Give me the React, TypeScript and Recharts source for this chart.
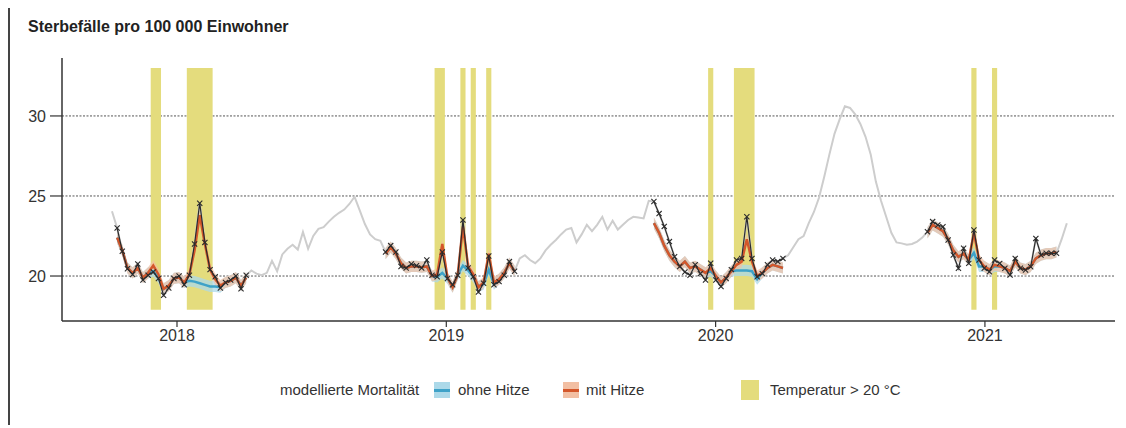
import {
  ComposedChart,
  Line,
  Area,
  XAxis,
  YAxis,
  CartesianGrid,
  ReferenceArea,
} from "recharts";

// Dezimaljahr der ersten Kalenderwoche, Wochenlänge in Jahren
const FIRST_WEEK = 2017.7586;
const WEEK = 7 / 365.25;

const YEAR_TICKS = [2018, 2019, 2020, 2021];
const Y_TICKS = [20, 25, 30];

// beobachtete Sterbefälle ausserhalb der Saisons (graue Linie)
const PRE = [24.05];
const GAP_2018 = [
  20.35, 20.15, 20.05, 20.2, 20.95, 20.3, 21.35, 21.7, 21.95, 21.65, 22.75, 21.7, 22.5,
  22.95, 23.05, 23.4, 23.7, 23.95, 24.15, 24.5, 24.95, 24.1, 23.25, 22.6, 22.3, 22.2,
];
const GAP_2019 = [
  21.1, 21.3, 21.0, 20.8, 21.1, 21.6, 21.95, 22.25, 22.6, 22.9, 23.0, 22.1, 22.6, 23.2,
  22.8, 23.2, 23.7, 22.9, 23.45, 22.9, 23.2, 23.5, 23.7, 23.65, 23.6, 24.7,
];
const GAP_2020 = [
  21.3, 21.8, 22.3, 22.5, 23.3, 24.0, 24.9, 26.2, 27.6, 28.9, 29.8, 30.6, 30.5, 30.1,
  29.5, 28.7, 27.6, 25.9, 24.7, 23.7, 22.7, 22.1, 22.04, 21.95, 22.0, 22.15, 22.4,
];
const POST = [22.3, 23.3];

// Saisons: beobachtet (schwarz), modelliert mit / ohne Hitze
const OBS_2018 = [
  23.0, 21.55, 20.45, 20.1, 20.75, 19.75, 20.05, 20.25, 19.85, 18.8, 19.25, 19.85, 20.0,
  19.45, 20.05, 22.0, 24.55, 22.1, 20.4, 19.95, 19.25, 19.6, 19.75, 20.0, 19.2, 20.05,
];
const MIT_2018 = [
  22.4, 21.6, 20.5, 20.2, 20.5, 19.9, 20.2, 20.65, 20.1, 19.2, 19.4, 19.85, 19.9, 19.6,
  20.1, 21.6, 23.8, 22.0, 20.4, 19.8, 19.4, 19.6, 19.7, 19.9, 19.4, 19.9,
];
const OHNE_2018 = [
  22.4, 21.6, 20.5, 20.2, 20.5, 19.9, 20.2, 20.3, 19.9, 19.2, 19.4, 19.85, 19.9, 19.6,
  19.7, 19.65, 19.55, 19.45, 19.35, 19.35, 19.3, 19.6, 19.7, 19.9, 19.4, 19.9,
];

const OBS_2019 = [
  21.5, 21.9, 21.5, 20.6, 20.5, 20.75, 20.65, 20.5, 21.0, 20.05, 19.95, 21.5, 19.85,
  19.45, 20.05, 23.5, 20.5, 19.95, 19.0, 19.55, 21.25, 19.45, 19.65, 20.05, 20.9, 20.3,
];
const MIT_2019 = [
  21.4, 21.8, 21.4, 20.8, 20.5, 20.6, 20.6, 20.55, 20.6, 20.0, 20.1, 22.0, 19.9, 19.3,
  20.1, 23.1, 20.6, 20.1, 19.3, 19.6, 21.4, 19.6, 19.8, 20.2, 20.8, 20.3,
];
const OHNE_2019 = [
  21.4, 21.8, 21.4, 20.8, 20.5, 20.6, 20.6, 20.55, 20.6, 20.0, 19.95, 20.2, 19.85, 19.3,
  20.1, 20.65, 20.35, 19.95, 19.35, 19.5, 20.4, 19.5, 19.8, 20.2, 20.8, 20.3,
];

const OBS_2020 = [
  24.65, 23.9, 23.1, 22.15, 21.2, 20.6, 20.25, 20.05, 20.7, 20.15, 19.75, 20.8, 19.75,
  19.35, 19.85, 20.4, 21.0, 21.1, 23.7, 21.1, 19.95, 20.15, 20.7, 21.0, 20.9, 21.1,
];
const MIT_2020 = [
  23.3, 22.7, 21.9, 21.3, 20.9, 20.6, 20.9, 20.5, 20.6, 20.4, 20.2, 20.5, 20.0, 19.6,
  19.9, 20.3, 20.7, 20.9, 22.3, 20.9, 20.0, 20.2, 20.5, 20.7, 20.6, 20.5,
];
const OHNE_2020 = [
  23.3, 22.7, 21.9, 21.3, 20.9, 20.6, 20.9, 20.5, 20.6, 20.4, 20.2, 20.3, 20.0, 19.6,
  19.9, 20.3, 20.35, 20.35, 20.35, 20.3, 19.8, 20.2, 20.5, 20.7, 20.6, 20.5,
];

const OBS_2021 = [
  22.77, 23.4, 23.19, 23.08, 22.25, 21.31, 20.48, 21.73, 20.79, 22.88, 21.0, 20.48, 20.27,
  21.0, 20.79, 20.48, 20.06, 21.1, 20.48, 20.38, 20.58, 22.35, 21.31, 21.42, 21.42, 21.42,
];
const MIT_2021 = [
  22.7, 23.2, 23.0, 22.8, 22.3, 21.6, 21.2, 21.4, 21.0, 22.7, 21.0, 20.6, 20.4, 20.7,
  20.6, 20.5, 20.3, 20.9, 20.5, 20.4, 20.6, 21.1, 21.3, 21.4, 21.4, 21.5,
];
const OHNE_2021 = [
  22.7, 23.2, 23.0, 22.8, 22.3, 21.6, 21.2, 21.4, 21.0, 21.45, 20.6, 20.6, 20.4, 20.6,
  20.6, 20.5, 20.3, 20.9, 20.5, 20.4, 20.6, 21.1, 21.3, 21.4, 21.4, 21.5,
];

// Wochen (Index ab FIRST_WEEK) mit Temperatur > 20 °C
const HEAT_WEEKS = [8, 9, 15, 16, 17, 18, 19, 63, 64, 68, 70, 73, 116, 121, 122, 123, 124, 167, 171];

// geschätzte Breite der Unsicherheitsbänder
const BAND = 0.35;

const COLORS = {
  grau: "#cdcdcd",
  schwarz: "#2b2b2b",
  mit: "#d4572b",
  mitBand: "#f2bfa3",
  ohne: "#3ea2c8",
  ohneBand: "#acd9e9",
  hitze: "#e4dc7d",
  text: "#333",
};

const FONT = "'Liberation Sans', Arial, sans-serif";

type Row = {
  x: number;
  grau: number;
  schwarz: number | null;
  mit: number | null;
  ohne: number | null;
  mitBand: [number, number] | null;
  ohneBand: [number, number] | null;
};

const parts: { obs: number[]; mit?: number[]; ohne?: number[] }[] = [
  { obs: PRE },
  { obs: OBS_2018, mit: MIT_2018, ohne: OHNE_2018 },
  { obs: GAP_2018 },
  { obs: OBS_2019, mit: MIT_2019, ohne: OHNE_2019 },
  { obs: GAP_2019 },
  { obs: OBS_2020, mit: MIT_2020, ohne: OHNE_2020 },
  { obs: GAP_2020 },
  { obs: OBS_2021, mit: MIT_2021, ohne: OHNE_2021 },
  { obs: POST },
];

const rows: Row[] = [];
parts.forEach((p) => {
  p.obs.forEach((v, k) => {
    const season = !!p.mit;
    rows.push({
      x: FIRST_WEEK + rows.length * WEEK,
      grau: v,
      schwarz: season ? v : null,
      mit: season ? p.mit![k] : null,
      ohne: season ? p.ohne![k] : null,
      mitBand: season ? [p.mit![k] - BAND, p.mit![k] + BAND] : null,
      ohneBand: season ? [p.ohne![k] - BAND, p.ohne![k] + BAND] : null,
    });
  });
});

// zusammenhängende Hitzewochen zu Bändern gruppieren
const heatRuns: [number, number][] = [];
HEAT_WEEKS.forEach((w) => {
  const last = heatRuns[heatRuns.length - 1];
  if (last && last[1] === w - 1) last[1] = w;
  else heatRuns.push([w, w]);
});

const Cross = (props: any) => {
  const { cx, cy, value, index } = props;
  if (value == null || cx == null || cy == null) return <g key={index} />;
  const s = 2.6;
  return (
    <path
      key={index}
      d={`M${cx - s},${cy - s}L${cx + s},${cy + s}M${cx - s},${cy + s}L${cx + s},${cy - s}`}
      stroke={COLORS.schwarz}
      strokeWidth={1.1}
      fill="none"
    />
  );
};

const legendText: React.CSSProperties = {
  position: "absolute",
  top: 372,
  fontSize: 15,
  lineHeight: "20px",
  color: COLORS.text,
  whiteSpace: "nowrap",
};

export default function App() {
  return (
    <div style={{ position: "relative", width: 1118, height: 418, fontFamily: FONT }}>
      <div
        style={{ position: "absolute", left: 0, top: -8, width: 2, height: 425, background: "#444" }}
      />
      <div
        style={{
          position: "absolute",
          left: 20,
          top: 10,
          fontSize: 16,
          fontWeight: "bold",
          lineHeight: "18px",
          color: "#222",
        }}
      >
        Sterbefälle pro 100 000 Einwohner
      </div>

      <ComposedChart
        width={1118}
        height={418}
        data={rows}
        margin={{ top: 50, right: 11, left: 0, bottom: 75 }}
      >
        <CartesianGrid
          vertical={false}
          stroke="#555"
          strokeDasharray="2 1.5"
          horizontalValues={Y_TICKS}
        />
        {heatRuns.map(([a, b]) => (
          <ReferenceArea
            key={a}
            x1={FIRST_WEEK + (a - 0.5) * WEEK}
            x2={FIRST_WEEK + (b + 0.5) * WEEK}
            y1={17.9}
            y2={33.0}
            fill={COLORS.hitze}
            fillOpacity={1}
            stroke="none"
          />
        ))}
        <XAxis
          type="number"
          dataKey="x"
          domain={[2017.573, 2021.483]}
          ticks={YEAR_TICKS}
          allowDataOverflow
          tickFormatter={(v) => String(v)}
          axisLine={{ stroke: "#333", strokeWidth: 1.5 }}
          tickLine={{ stroke: "#333", strokeWidth: 1.2 }}
          tickSize={6}
          tickMargin={3}
          tick={{ fill: COLORS.text, fontSize: 16, fontFamily: FONT }}
          height={30}
        />
        <YAxis
          type="number"
          domain={[17.19, 33.62]}
          ticks={Y_TICKS}
          allowDataOverflow
          width={54}
          axisLine={{ stroke: "#333", strokeWidth: 1.5 }}
          tickLine={{ stroke: "#333", strokeWidth: 1.2 }}
          tickSize={12}
          tickMargin={4}
          tick={{ fill: COLORS.text, fontSize: 16, fontFamily: FONT }}
        />
        <Line
          dataKey="grau"
          stroke={COLORS.grau}
          strokeWidth={2}
          dot={false}
          isAnimationActive={false}
        />
        <Area
          dataKey="ohneBand"
          fill={COLORS.ohneBand}
          fillOpacity={0.75}
          stroke="none"
          isAnimationActive={false}
        />
        <Area
          dataKey="mitBand"
          fill={COLORS.mitBand}
          fillOpacity={0.7}
          stroke="none"
          isAnimationActive={false}
        />
        <Line
          dataKey="ohne"
          stroke={COLORS.ohne}
          strokeWidth={2.5}
          dot={false}
          isAnimationActive={false}
        />
        <Line
          dataKey="mit"
          stroke={COLORS.mit}
          strokeWidth={2.5}
          dot={false}
          isAnimationActive={false}
        />
        <Line
          dataKey="schwarz"
          stroke={COLORS.schwarz}
          strokeWidth={1.2}
          dot={Cross}
          activeDot={false}
          isAnimationActive={false}
        />
      </ComposedChart>

      {/* Legende */}
      <div style={{ ...legendText, left: 272 }}>modellierte Mortalität</div>
      <div
        style={{ position: "absolute", left: 426, top: 374, width: 16, height: 16, background: COLORS.ohneBand }}
      >
        <div style={{ position: "absolute", left: 0, top: 6.5, width: 16, height: 3, background: COLORS.ohne }} />
      </div>
      <div style={{ ...legendText, left: 450 }}>ohne Hitze</div>
      <div
        style={{ position: "absolute", left: 555, top: 374, width: 16, height: 16, background: COLORS.mitBand }}
      >
        <div style={{ position: "absolute", left: 0, top: 6.5, width: 16, height: 3, background: COLORS.mit }} />
      </div>
      <div style={{ ...legendText, left: 578 }}>mit Hitze</div>
      <div
        style={{ position: "absolute", left: 733, top: 372, width: 18, height: 20, background: COLORS.hitze }}
      />
      <div style={{ ...legendText, left: 762 }}>Temperatur &gt; 20 °C</div>
    </div>
  );
}
